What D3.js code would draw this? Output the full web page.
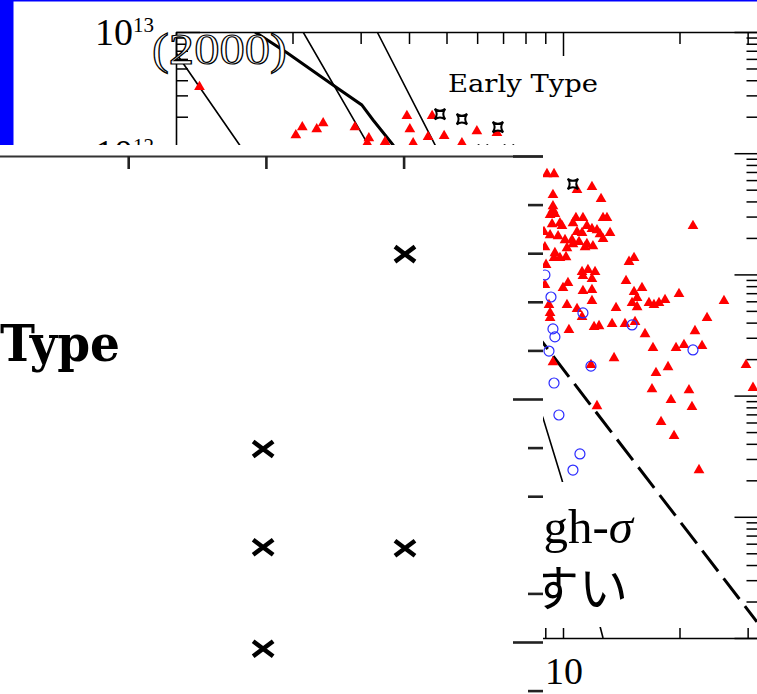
<!DOCTYPE html>
<html><head><meta charset="utf-8">
<script src="https://cdn.jsdelivr.net/npm/d3@7"></script>
<style>body{margin:0;background:#fff;overflow:hidden}svg{display:block}</style>
</head><body>
<svg id="c" width="757" height="694"></svg>
<script>
// ---------------- data ----------------
const xLabelValues = [1, 10];
const yLabelValues = [1e13, 1e12, 1e11, 1e10, 1e9, 1e8];
const plotLabel = "Early Type";
const yearLabel = "(2000)";
const zoomLabel = "Type";
const noteLine1 = "High-";
const noteSigma = "σ";
const noteLine2 = "やすい";

// red filled triangles
const triangles = [
 [1.15,3.52e12],[2.12,1.64e12],[2.04,1.41e12],[2.31,1.58e12],[2.40,1.77e12],[2.90,1.64e12],
 [3.15,1.33e12],[3.12,1.21e12],[3.47,1.24e12],[3.95,2.03e12],[4.59,2.03e12],[4.02,1.58e12],
 [4.48,1.36e12],[4.93,1.39e12],[4.10,1.21e12],[5.48,1.21e12],[5.99,1.52e12],[6.75,1.47e12],
 [9.09,6.73e11],[9.48,6.73e11],[11.88,5.26e11],[10.87,4.97e11],[9.42,4.52e11],[12.54,4.19e11],
 [9.42,3.66e11],[9.42,3.40e11],[9.26,3.09e11],[9.53,3.15e11],[12.69,2.92e11],[12.99,2.92e11],
 [10.80,2.92e11],[11.26,2.92e11],[10.61,2.65e11],[9.37,2.60e11],[9.82,2.65e11],[9.94,2.51e11],
 [11.53,2.51e11],[11.88,2.37e11],[12.24,2.32e11],[8.93,2.24e11],[9.26,2.11e11],[9.71,2.07e11],
 [10.87,2.24e11],[11.20,2.20e11],[12.46,2.15e11],[13.23,2.20e11],[10.12,1.92e11],[10.55,1.92e11],
 [11.00,1.85e11],[11.53,1.78e11],[12.69,1.96e11],[11.95,1.71e11],[11.40,1.68e11],[10.61,1.78e11],
 [10.24,1.65e11],[8.98,1.68e11],[21.67,2.51e11],[9.53,1.50e11],[9.48,1.37e11],[9.82,1.37e11],
 [10.18,1.39e11],[15.26,1.37e11],[14.81,1.27e11],[9.04,1.20e11],[11.20,1.05e11],[11.60,1.09e11],
 [12.10,1.05e11],[11.26,9.70e10],[11.88,9.17e10],[14.55,8.83e10],[10.30,8.50e10],[10.0,7.73e10],
 [11.26,7.30e10],[11.88,7.44e10],[16.00,7.73e10],[15.26,7.16e10],[8.98,8.18e10],[19.94,6.89e10],
 [15.54,6.39e10],[18.35,6.15e10],[11.88,6.04e10],[26.06,6.04e10],[16.68,5.81e10],[17.70,5.81e10],
 [17.18,5.59e10],[9.20,5.59e10],[10.24,5.59e10],[13.71,5.28e10],[15.54,5.38e10],[15.08,5.81e10],
 [9.26,4.81e10],[9.26,4.37e10],[10.87,5.19e10],[11.20,4.46e10],[23.56,4.37e10],[10.36,3.48e10],
 [12.03,3.68e10],[12.39,3.75e10],[13.39,3.90e10],[14.46,3.90e10],[15.35,4.05e10],[16.29,3.22e10],
 [21.93,3.41e10],[17.08,2.47e10],[19.59,2.47e10],[20.54,2.62e10],[22.87,2.57e10],[9.42,1.89e10],
 [13.55,2.04e10],[11.81,1.79e10],[18.68,1.72e10],[17.39,1.54e10],[29.71,1.79e10],[16.98,1.13e10],
 [21.16,1.11e10],[30.97,1.16e10],[19.01,9.2e9],[21.54,8.05e9],[12.24,8.2e9],[17.92,6.06e9],
 [19.36,4.64e9],[22.46,2.43e9]
];
// blue open circles
const circles = [
 [8.98,9.89e10],[9.31,6.51e10],[11.26,4.81e10],[15.08,3.83e10],[9.42,3.55e10],[9.53,3.05e10],
 [9.20,2.33e10],[21.67,2.38e10],[11.81,1.75e10],[9.48,1.27e10],[9.76,6.92e9],[11.06,3.30e9],
 [10.61,2.43e9]
];
// black four-point stars
const stars = [
 [4.81,2.10e12],[5.48,1.91e12],[6.79,1.64e12],[6.21,1.06e12],[7.25,1.06e12],[10.61,5.57e11]
];
// model curves
const lineA = [[1.0,6.71e12],[1.46,1.17e12],[2.09,1.59e11]];
const lineB = [[1.60,1e13],[1.94,6.71e12],[2.61,3.45e12],[3.02,2.50e12],[3.23,1.88e12],[3.64,1.17e12],[4.53,2.32e11]];
const lineC = [[2.13,1e13],[3.12,1.21e12],[4.27,3.48e10]];
const lineD = [[3.31,1e13],[4.67,1.17e12],[8.88,6.53e9],[9.94,2.01e9],[12.69,1e8]];
const dashedLine = [[5.0,2.95e11],[8.88,2.72e10],[31.7,1.36e8]];

// magnified inset
const insetXTicks = [1, 2, 3];
const insetYTicks = [0, 1, 2, 3, 4, 5, 6, 7, 9, 10, 11];
const insetCrosses = [[3.01,2.02],[1.98,6.03],[1.98,8.05],[3.01,8.07],[1.98,10.14]];

// ---------------- drawing ----------------
const svg = d3.select('#c');
const x = d3.scaleLog().domain([1, 32]).range([176, 176 + 387 * Math.log10(32)]);
const y = d3.scaleLog().domain([1e8, 1e13]).range([638, 32]);
const [X0, X1] = x.range();
const [YB, YT] = y.range();
const isMajor = d => Math.abs(Math.log10(d) - Math.round(Math.log10(d))) < 1e-9;
const SERIF = '"DejaVu Serif", "Liberation Serif", serif';
const TIMES = '"Liberation Serif", serif';

const defs = svg.append('defs');
defs.append('clipPath').attr('id', 'plotClip').append('rect')
  .attr('x', X0).attr('y', YT).attr('width', X1 - X0).attr('height', YB - YT);

const plot = svg.append('g');

// axes
function styleAxis(g) {
  g.selectAll('path.domain').attr('stroke', '#000').attr('stroke-width', 1.6);
  g.selectAll('.tick line').attr('stroke', '#000').attr('stroke-width', 1.5);
  g.selectAll('.tick text').remove();
}
plot.append('g').attr('transform', `translate(0,${YT})`)
  .call(d3.axisBottom(x).tickValues(x.ticks()).tickSize(12).tickSizeOuter(0).tickFormat(''))
  .call(g => g.selectAll('.tick line').attr('y2', d => isMajor(d) ? 24 : 12))
  .call(styleAxis);
plot.append('g').attr('transform', `translate(0,${YB})`)
  .call(d3.axisTop(x).tickValues(x.ticks()).tickSize(10).tickSizeOuter(0).tickFormat(''))
  .call(styleAxis);
plot.append('g').attr('transform', `translate(${X0},0)`)
  .call(d3.axisRight(y).tickValues(y.ticks()).tickSize(12).tickSizeOuter(0).tickFormat(''))
  .call(g => g.selectAll('.tick line').attr('x2', d => isMajor(d) ? 24 : 12))
  .call(styleAxis);
plot.append('g').attr('transform', `translate(${X1},0)`)
  .call(d3.axisLeft(y).tickValues(y.ticks()).tickSize(12).tickSizeOuter(0).tickFormat(''))
  .call(g => g.selectAll('.tick line').attr('x2', d => isMajor(d) ? -24 : -12))
  .call(styleAxis);

// tick labels
const yl = plot.append('g').attr('font-family', TIMES).attr('fill', '#000');
yLabelValues.forEach(v => {
  const t = yl.append('text').attr('x', 154).attr('y', y(v) + 13).attr('text-anchor', 'end');
  t.append('tspan').attr('font-size', 38).text('10');
  t.append('tspan').attr('font-size', 21).attr('dy', -13).text(String(Math.round(Math.log10(v))));
});
plot.append('g').selectAll('text').data(xLabelValues).join('text')
  .attr('x', d => x(d) + 1).attr('y', YB + 46).attr('text-anchor', 'middle')
  .attr('font-family', TIMES).attr('font-size', 38).text(d => d);

// model lines
const line = d3.line().x(d => x(d[0])).y(d => y(d[1]));
const gl = plot.append('g').attr('clip-path', 'url(#plotClip)').attr('fill', 'none').attr('stroke', '#000');
gl.append('path').attr('d', line(lineA)).attr('stroke-width', 1.6);
gl.append('path').attr('d', line(lineB)).attr('stroke-width', 3);
gl.append('path').attr('d', line(lineC)).attr('stroke-width', 1.6);
gl.append('path').attr('d', line(lineD)).attr('stroke-width', 1.6);
gl.append('path').attr('d', line(dashedLine)).attr('stroke-width', 3).attr('stroke-dasharray', '26,9');

// markers
const gm = plot.append('g').attr('clip-path', 'url(#plotClip)');
const tri = d3.symbol(d3.symbolTriangle, 50);
gm.append('g').selectAll('path').data(triangles).join('path')
  .attr('d', tri).attr('transform', d => `translate(${x(d[0])},${y(d[1])})`).attr('fill', '#ff0000');
gm.append('g').selectAll('circle').data(circles).join('circle')
  .attr('cx', d => x(d[0])).attr('cy', d => y(d[1])).attr('r', 5)
  .attr('fill', 'none').attr('stroke', '#2a2aff').attr('stroke-width', 1.2);
const starType = { draw(ctx, size) {
  const r = Math.sqrt(size) / 2, k = 0.25 * r;
  ctx.moveTo(-r, -r);
  ctx.quadraticCurveTo(0, -k, r, -r);
  ctx.quadraticCurveTo(k, 0, r, r);
  ctx.quadraticCurveTo(0, k, -r, r);
  ctx.quadraticCurveTo(-k, 0, -r, -r);
  ctx.closePath();
}};
gm.append('g').selectAll('path').data(stars).join('path')
  .attr('d', d3.symbol(starType, 110)).attr('transform', d => `translate(${x(d[0])},${y(d[1])})`)
  .attr('fill', '#fff').attr('stroke', '#000').attr('stroke-width', 2);

// plot label
plot.append('text').attr('x', 448).attr('y', 92)
  .attr('font-family', SERIF).attr('font-size', 25)
  .attr('textLength', 150).attr('lengthAdjust', 'spacingAndGlyphs').text(plotLabel);

// year label (outlined)
svg.append('text').attr('x', 152).attr('y', 64)
  .attr('font-family', TIMES).attr('font-size', 45)
  .attr('textLength', 135).attr('lengthAdjust', 'spacingAndGlyphs')
  .attr('fill', '#fff').attr('stroke', '#000').attr('stroke-width', 1.2).text(yearLabel);

// note text box
const note = svg.append('g');
note.append('rect').attr('x', 470).attr('y', 482).attr('width', 178).attr('height', 145).attr('fill', '#fff');
const n1 = note.append('text').attr('x', 633).attr('y', 543).attr('text-anchor', 'end')
  .attr('font-family', TIMES).attr('font-size', 49);
n1.append('tspan').text(noteLine1);
n1.append('tspan').attr('font-style', 'italic').text(noteSigma);
note.append('text').attr('x', 628).attr('y', 606).attr('text-anchor', 'end')
  .attr('font-family', '"Noto Sans CJK JP", sans-serif').attr('font-size', 49).text(noteLine2);

// magnified inset
defs.append('clipPath').attr('id', 'insetClip').append('rect')
  .attr('x', 0).attr('y', 145).attr('width', 543).attr('height', 549);
const inset = svg.append('g').attr('clip-path', 'url(#insetClip)');
inset.append('rect').attr('x', 0).attr('y', 145).attr('width', 543).attr('height', 549).attr('fill', '#fff');
const ox = d3.scaleLinear().domain([0, 4.1]).range([-9.5, -9.5 + 137.7 * 4.1]);
const oy = d3.scaleLinear().domain([0, 11]).range([156, 156 + 48.6 * 11]);
function styleInset(g) {
  g.selectAll('path.domain').attr('stroke', '#333').attr('stroke-width', 2.2);
  g.selectAll('.tick line').attr('stroke', '#222').attr('stroke-width', 2.6);
}
inset.append('g').attr('transform', `translate(0,${oy(0)})`)
  .call(d3.axisBottom(ox).tickValues(insetXTicks).tickSize(13).tickSizeOuter(0).tickFormat(''))
  .call(styleInset);
inset.append('g').attr('transform', 'translate(545,0)')
  .call(d3.axisLeft(oy).tickValues(insetYTicks).tickSize(17).tickSizeOuter(0).tickFormat(''))
  .call(g => g.selectAll('.tick line').attr('x2', d => d % 5 === 0 ? -32 : -17))
  .call(styleInset);
const cross = inset.append('g').selectAll('g').data(insetCrosses).join('g')
  .attr('transform', d => `translate(${ox(d[0])},${oy(d[1])})`);
cross.append('path').attr('d', 'M-10,-7.5L10,7.5M-10,7.5L10,-7.5')
  .attr('stroke', '#000').attr('stroke-width', 4.5).attr('fill', 'none');
inset.append('text').attr('x', 0).attr('y', 361)
  .attr('font-family', SERIF).attr('font-weight', 'bold').attr('font-size', 50)
  .attr('textLength', 120).attr('lengthAdjust', 'spacingAndGlyphs').text(zoomLabel);

// slide frame
svg.append('rect').attr('x', 0).attr('y', 0).attr('width', 757).attr('height', 1.5).attr('fill', '#0000ff');
svg.append('rect').attr('x', 0).attr('y', 0).attr('width', 13.5).attr('height', 145).attr('fill', '#0000ff');
</script>
</body></html>
